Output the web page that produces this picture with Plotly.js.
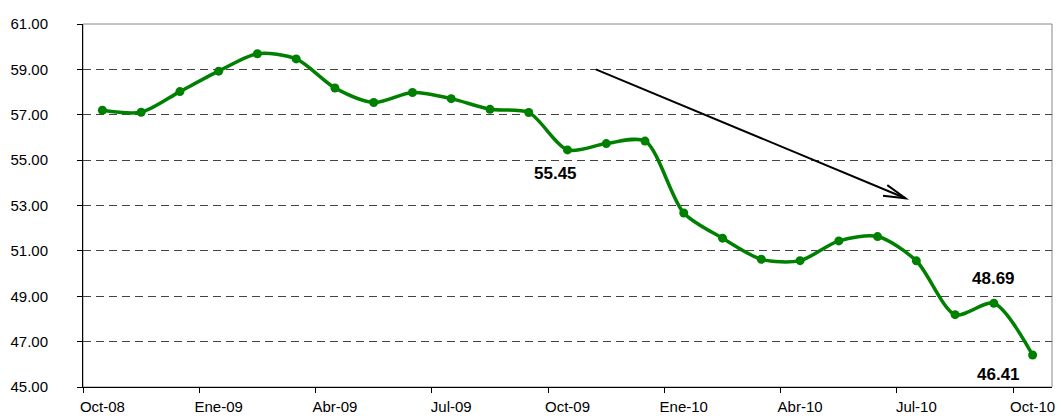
<!DOCTYPE html>
<html>
<head>
<meta charset="utf-8">
<script src="https://cdn.plot.ly/plotly-3.0.1.min.js"></script>
<style>
  html, body { margin: 0; padding: 0; background: #fff; }
  #chart { width: 1061px; height: 418px; }
</style>
</head>
<body>
<div id="chart"></div>
<script>
// Monthly series Oct-08 .. Oct-10
const months = ["Oct-08","Nov-08","Dic-08","Ene-09","Feb-09","Mar-09","Abr-09","May-09","Jun-09",
  "Jul-09","Ago-09","Sep-09","Oct-09","Nov-09","Dic-09","Ene-10","Feb-10","Mar-10","Abr-10",
  "May-10","Jun-10","Jul-10","Ago-10","Sep-10","Oct-10"];
const values = [57.20, 57.11, 58.02, 58.92, 59.69, 59.46, 58.18, 57.54, 57.98, 57.71, 57.24, 57.10,
  55.45, 55.73, 55.84, 52.67, 51.56, 50.63, 50.57, 51.44, 51.63, 50.56, 48.19, 48.69, 46.41];
const tickLabels = ["Oct-08","Ene-09","Abr-09","Jul-09","Oct-09","Ene-10","Abr-10","Jul-10","Oct-10"];
const labeledPoints = ["Oct-09", "Sep-10", "Oct-10"];

const idx = months.map((m, i) => i);
const tickIdx = tickLabels.map(t => months.indexOf(t));
const boundaryIdx = tickIdx.map(i => i - 0.5);

const FONT = "Liberation Sans, Arial, sans-serif";

const trace = {
  x: idx,
  y: values,
  type: "scatter",
  mode: "lines+markers",
  line: { color: "#008000", width: 3.5, shape: "spline", smoothing: 0.8 },
  marker: { color: "#008000", size: 9 },
  hoverinfo: "skip"
};

const labelShifts = {
  "Oct-09": [-12, -24],
  "Sep-10": [0, 25],
  "Oct-10": [-34, -19]
};
const annotations = labeledPoints.map(m => {
  const i = months.indexOf(m);
  return {
    x: i, y: values[i], xref: "x", yref: "y",
    text: values[i].toFixed(2), showarrow: false,
    xshift: labelShifts[m][0], yshift: labelShifts[m][1],
    font: { family: FONT, size: 17, color: "#000", weight: "bold" }
  };
});

// trend arrow (decoration)
const ax0 = 12.73, ay0 = 59.0, ax1 = 20.72, ay1 = 53.32;
const shapes = [
  { type: "line", xref: "x", yref: "y", x0: ax0, y0: ay0, x1: ax1, y1: ay1,
    line: { color: "#000", width: 2 } },
  { type: "path", xref: "x", yref: "y",
    path: `M 20.25 53.90 L ${ax1} ${ay1} L 20.14 53.43`,
    line: { color: "#000", width: 2 } },
  // plot area border (top/right)
  { type: "rect", xref: "paper", yref: "paper", x0: 0, y0: 0, x1: 1, y1: 1,
    line: { color: "#888", width: 1 }, layer: "below" }
];

const layout = {
  width: 1061, height: 418,
  margin: { l: 83, r: 9, t: 24, b: 31 },
  paper_bgcolor: "#fff", plot_bgcolor: "#fff",
  showlegend: false,
  font: { family: FONT, size: 15, color: "#000" },
  xaxis: {
    range: [-0.5, months.length - 0.5],
    tickmode: "array", tickvals: tickIdx, ticktext: tickLabels,
    ticks: "", showgrid: false, zeroline: false,
    showline: true, linecolor: "#000", linewidth: 1,
    ticklabelstandoff: 6,
    tickfont: { family: FONT, size: 15, color: "#000" },
    minor: { tickmode: "array", tickvals: boundaryIdx, ticks: "outside",
             ticklen: 5, tickcolor: "#000", tickwidth: 1, showgrid: false },
    fixedrange: true
  },
  yaxis: {
    range: [45, 61], dtick: 2, tick0: 45, tickformat: ".2f",
    ticks: "outside", ticklen: 5, tickcolor: "#000",
    showline: true, linecolor: "#000", linewidth: 1,
    showgrid: true, gridcolor: "#444", gridwidth: 1, griddash: "8px,5px",
    zeroline: false,
    ticklabelstandoff: 26,
    tickfont: { family: FONT, size: 15, color: "#000" },
    fixedrange: true
  },
  annotations: annotations,
  shapes: shapes
};

Plotly.newPlot("chart", [trace], layout, { displayModeBar: false, staticPlot: true });
</script>
</body>
</html>
